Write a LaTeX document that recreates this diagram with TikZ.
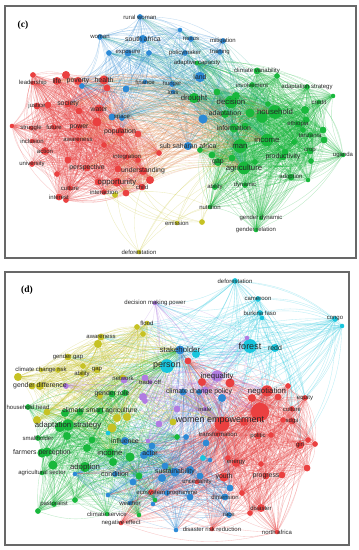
\documentclass[tikz,border=0pt]{standalone}
\usepackage{fontspec}
\setmainfont{Liberation Sans}
\newfontfamily\panelfont{Liberation Serif}
\usepackage{tikz}
\usetikzlibrary{backgrounds}
\pgfdeclarelayer{foreground}
\pgfsetlayers{background,main,foreground}
\definecolor{vosred}{RGB}{234,64,64}
\definecolor{vosgreen}{RGB}{24,184,60}
\definecolor{vosblue}{RGB}{44,138,214}
\definecolor{vosyellow}{RGB}{198,194,36}
\definecolor{voscyan}{RGB}{24,198,222}
\definecolor{vospurple}{RGB}{176,124,226}
\definecolor{vosorange}{RGB}{226,132,70}
\definecolor{vosteal}{RGB}{40,168,150}
\definecolor{framegray}{RGB}{104,104,104}
\definecolor{labelink}{RGB}{40,40,40}
\newcommand{\fs}{\fontsize{6.0}{6.5}\selectfont}
\newcommand{\fm}{\fontsize{6.9}{7.5}\selectfont}
\newcommand{\fl}{\fontsize{7.8}{8.5}\selectfont}
\newcommand{\fx}{\fontsize{9.0}{10}\selectfont}
\tikzset{
  kwdot/.style={circle,inner sep=0pt,draw=none},
  kwlab/.style={inner sep=0pt,text=labelink},
  kwedge/.style={line width=0.35pt,draw opacity=0.3,bend left=17},
  panelframe/.style={draw=framegray,line width=1.4pt},
  panellab/.style={font=\panelfont\bfseries\fontsize{9.5}{10}\selectfont,text=black}
}
% labelled keyword: name/x/y/size/font/text
\newcommand{\kwnodes}[2]{%
  \foreach \n/\x/\y/\s/\z/\lab in {#2}{%
    \node[kwdot,fill=#1,minimum size=1.15*\s pt] (\n) at (\x,\y) {};
    \begin{pgfonlayer}{foreground}
      \node[kwlab,font=\z] (\n-l) at (\x,\y) {\lab};
    \end{pgfonlayer}}}
% unlabelled keyword: name/x/y/size
\newcommand{\kwdots}[2]{%
  \foreach \n/\x/\y/\s in {#2}{%
    \node[kwdot,fill=#1,minimum size=1.15*\s pt] (\n) at (\x,\y) {};}}
\newcommand{\clique}[2]{%
  \foreach \a [count=\i] in #2 {\foreach \b [count=\j] in #2 {%
    \ifnum\j>\i\relax \draw[kwedge,draw=#1] (\a) to (\b);\fi}}}
\newcommand{\links}[3]{%
  \foreach \a in #2 {\foreach \b in #3 {\draw[kwedge,draw=#1] (\a) to (\b);}}}

% cluster lists, panel (c)
\def\cRed{c-life,c-poverty,c-health,c-leadership,c-justice,c-society,c-water,c-future,c-power,c-struggle,c-population,c-inclusion,c-awareness,c-action,c-integration,c-university,c-perspective,c-understanding,c-opportunity,c-child,c-culture,c-interaction,c-interest,c-r1,c-r2,c-r3,c-r4,c-r5,c-r6,c-r7,c-r8,c-r9,c-r10,c-r11,c-r12,c-r13,c-r14,c-r15,c-r16,c-r17,c-r18}
\def\cRedMain{c-life,c-poverty,c-health,c-society,c-water,c-power,c-population,c-awareness,c-integration,c-perspective,c-understanding,c-opportunity,c-child,c-interaction,c-r3,c-r6,c-r8,c-r9,c-r11,c-r13,c-r15,c-r17,c-r18}
\def\cRedHub{c-health,c-poverty,c-water,c-population,c-society}
\def\cBlue{c-ruralwoman,c-woman,c-southafrica,c-exposure,c-policymaker,c-nexus,c-mitigation,c-training,c-land,c-finance,c-hunger,c-loss,c-space,c-subsaharan,c-b1,c-b2,c-b3,c-b4,c-b5,c-b6,c-b7}
\def\cBlueTop{c-ruralwoman,c-woman,c-southafrica,c-exposure,c-b1,c-b2}
\def\cGreen{c-adaptcap,c-climvar,c-involvement,c-adaptstrat,c-credit,c-drought,c-decision,c-household,c-adaptation,c-information,c-ethiopia,c-tanzania,c-crop,c-uganda,c-income,c-man,c-productivity,c-gap,c-agriculture,c-adoption,c-ability,c-dynamic,c-nutrition,c-genderdyn,c-genderrel,c-g1,c-g2,c-g3,c-g4,c-g5,c-g6,c-g7,c-g8,c-g9,c-g10,c-g11,c-g12,c-g13,c-g14,c-g15,c-g16,c-g17,c-g18,c-g19,c-g20,c-g21}
\def\cGreenHub{c-drought,c-decision,c-household,c-man,c-income,c-agriculture,c-information,c-adaptation}
\def\cYellow{c-deforest,c-emission,c-y1,c-y2}
\def\cYellowTo{c-interaction,c-opportunity,c-man,c-agriculture,c-child,c-gap,c-nutrition}

% cluster lists, panel (d)
\def\dYellow{d-flood,d-awareness,d-gendergap,d-climrisk,d-ability,d-gap,d-genderdiff,d-network,d-y1,d-y2,d-y3,d-y4,d-y5,d-y6,d-y7,d-y8,d-y9,d-y10,d-y11,d-y12,d-y13,d-y14}
\def\dGreen{d-househead,d-climsmart,d-adaptstrat,d-smallholder,d-farmers,d-income,d-adoption,d-agrisector,d-pastoralist,d-climserv,d-genderrole,d-g1,d-g2,d-g3,d-g4,d-g5,d-g6,d-g7,d-g8,d-g9,d-g10,d-g11,d-g12,d-g13,d-g14,d-g15,d-g16,d-g17}
\def\dBlue{d-stakeholder,d-influence,d-actor,d-condition,d-weather,d-climpolicy,d-sustain,d-ecoprog,d-dimension,d-race,d-b1,d-b2,d-b3,d-b4,d-b5,d-b6,d-b7,d-b8,d-b9,d-b10,d-b11,d-b12,d-b13,d-b14,d-b15,d-b16,d-b17,d-b18}
\def\dCyan{d-person,d-forest,d-redd,d-deforest,d-cameroon,d-burkina,d-congo,d-c1,d-c2,d-c3,d-c4,d-c5}
\def\dCyanMain{d-forest,d-redd,d-deforest,d-cameroon,d-burkina,d-congo,d-c2}
\def\dFar{d-person,d-stakeholder,d-negotiation,d-womenemp,d-equity,d-inequality,d-awareness,d-flood,d-dmpower,d-climpolicy,d-girl,d-culture,d-r1,d-gendergap,d-y1}
\def\dPurple{d-dmpower,d-inequality,d-tradeoff,d-male,d-p1,d-p2,d-p3,d-p4,d-p5,d-p6,d-p7,d-p8,d-p9,d-p10}
\def\dRed{d-womenemp,d-negotiation,d-equity,d-culture,d-sdgs,d-politic,d-girl,d-energy,d-youth,d-progress,d-disaster,d-northafrica,d-negeffect,d-uncert,d-drr,d-transform,d-r1,d-r2,d-r3,d-r4,d-r5,d-r6,d-r7,d-r8,d-r9,d-r10,d-r11,d-r12,d-r13,d-r14,d-r15,d-r16,d-r17,d-r19,d-r22,d-r23}
\def\dRedHub{d-womenemp,d-r1,d-negotiation,d-r23}
\def\dMidHub{d-person,d-womenemp,d-stakeholder,d-adaptstrat,d-income}
\def\dBlueHub{d-sustain,d-actor,d-influence,d-stakeholder,d-person}

\begin{document}
\begin{tikzpicture}[x=1pt,y=-1pt]
  \useasboundingbox (0,0) rectangle (359,550);
  \begin{pgfonlayer}{background}
    \fill[white] (0,0) rectangle (359,550);
  \end{pgfonlayer}
  \draw[panelframe] (5,6) rectangle (356,258);
  \draw[panelframe] (5,272) rectangle (349,545);

  % ---- panel (c)
  \kwnodes{vosred}{c-life/57/81/7/\fm/life, c-poverty/78/81/7/\fm/poverty,
    c-health/104/80/8/\fm/health, c-leadership/33/83/4/\fs/leadership,
    c-justice/37/106/6/\fs/justice, c-society/68/104/6/\fm/society,
    c-water/99/109/8/\fm/water, c-future/54/127/5/\fs/future,
    c-power/79/127/6/\fm/power, c-struggle/31/128/4/\fs/struggle,
    c-population/120/132/8/\fm/population, c-inclusion/32/141/4/\fs/inclusion,
    c-awareness/78/140/5/\fs/awareness, c-action/45/151/7/\fs/action,
    c-integration/127/157/5/\fs/integration, c-university/32/164/5/\fs/university,
    c-perspective/87/168/6/\fm/perspective, c-understanding/143/171/7/\fm/understanding,
    c-opportunity/117/182/8/\fl/opportunity, c-child/142/187/6/\fs/child,
    c-culture/70/188/5/\fs/culture, c-interaction/104/192/5/\fs/interaction,
    c-interest/59/197/6/\fs/interest}
  \kwdots{vosred}{c-r1/33/75/5, c-r2/66/75/7, c-r3/107/88/6, c-r4/48/105/6,
    c-r5/79/111/6, c-r6/97/122/8, c-r7/12/126/4, c-r8/138/134/6, c-r9/104/145/5,
    c-r10/68/160/6, c-r11/118/169/6, c-r12/57/174/5, c-r13/150/180/7,
    c-r14/98/182/6, c-r15/126/193/6, c-r16/66/200/5, c-r17/159/153/5, c-r18/138/160/5}
  \kwnodes{vosblue}{c-ruralwoman/140/17/5/\fs/rural woman, c-woman/100/37/5/\fs/woman,
    c-southafrica/143/39/7/\fm/south africa, c-exposure/128/53/6/\fs/exposure,
    c-policymaker/185/53/5/\fs/policymaker, c-nexus/191/39/5/\fs/nexus,
    c-mitigation/223/41/5/\fs/mitigation, c-training/220/52/5/\fs/training,
    c-land/200/77/9/\fm/land, c-finance/145/82/4/\fs/finance,
    c-hunger/172/84/5/\fs/hunger, c-loss/173/92/4/\fs/loss,
    c-space/122/118/5/\fs/space, c-subsaharan/188/146/7/\fm/sub saharan africa}
  \kwdots{vosblue}{c-b1/109/53/5, c-b2/149/53/5, c-b3/126/89/6, c-b4/112/117/6,
    c-b5/203/119/8, c-b6/82/86/5, c-b7/180/30/4}
  \kwnodes{vosgreen}{c-adaptcap/197/63/4/\fs/adaptive capacity,
    c-climvar/257/71/6/\fs/climate variability, c-involvement/252/85/5/\fs/involvement,
    c-adaptstrat/307/87/5/\fs/adaptation strategy, c-credit/319/102/4/\fs/credit,
    c-drought/194/98/9/\fl/drought, c-decision/231/102/11/\fl/decision,
    c-household/275/112/12/\fl/household, c-adaptation/225/114/7/\fm/adaptation,
    c-information/234/128/8/\fm/information, c-ethiopia/298/124/6/\fs/ethiopia,
    c-tanzania/310/135/5/\fs/tanzania, c-crop/310/151/6/\fs/crop,
    c-uganda/343/155/4/\fs/uganda, c-income/267/140/11/\fl/income,
    c-man/240/146/12/\fl/man, c-productivity/283/157/6/\fm/productivity,
    c-gap/218/162/7/\fm/gap, c-agriculture/244/168/11/\fl/agriculture,
    c-adoption/291/177/6/\fs/adoption, c-ability/215/187/5/\fs/ability,
    c-dynamic/245/185/5/\fs/dynamic, c-nutrition/210/207/4/\fs/nutrition,
    c-genderdyn/261/218/4/\fs/gender dynamic, c-genderrel/256/230/4/\fs/gender relation}
  \kwdots{vosgreen}{c-g1/217/92/6, c-g2/236/96/7, c-g3/262/117/10, c-g4/268/104/5,
    c-g5/305/110/7, c-g6/306/120/6, c-g7/323/130/6, c-g8/324/140/6, c-g9/303/130/5,
    c-g10/294/142/5, c-g11/311/161/5, c-g12/308/180/4, c-g13/255/162/5,
    c-g14/232/158/6, c-g15/212/155/6, c-g16/200/150/5, c-g17/245/126/6,
    c-g18/285/152/6, c-g19/333/96/4, c-g20/277/76/5, c-g21/250/113/8}
  \kwnodes{vosyellow}{c-emission/177/223/4/\fs/emission,
    c-deforest/139/252/4/\fs/deforestation}
  \kwdots{vosyellow}{c-y1/115/195/5, c-y2/202/222/5}
  \begin{pgfonlayer}{foreground}
    \node[panellab] (c-tag) at (23,25) {(c)};
  \end{pgfonlayer}

  % ---- panel (d)
  \kwnodes{vosyellow}{d-flood/147/323/4/\fs/flood, d-awareness/101/337/6/\fs/awareness,
    d-gendergap/68/357/6/\fs/gender gap, d-climrisk/41/370/4/\fs/climate change risk,
    d-ability/82/374/5/\fs/ability, d-gap/97/370/6/\fs/gap,
    d-genderdiff/40/386/7/\fm/gender difference, d-network/123/378/6/\fs/network}
  \kwdots{vosyellow}{d-y1/137/327/5, d-y2/143/334/5, d-y3/98/344/7, d-y4/18/377/7,
    d-y5/83/366/5, d-y6/32/386/6, d-y7/37/420/7, d-y8/117/418/7, d-y9/127/417/7,
    d-y10/112/428/8, d-y11/47/412/6, d-y12/173/422/6, d-y13/58/370/5, d-y14/100/396/5}
  \kwnodes{vosgreen}{d-househead/28/407/5/\fs/household head,
    d-climsmart/100/411/6/\fm/climate smart agriculture,
    d-adaptstrat/68/425/10/\fl/adaptation strategy, d-smallholder/38/438/5/\fs/smallholder,
    d-farmers/42/453/8/\fm/farmers perception, d-income/110/453/8/\fl/income,
    d-adoption/85/467/9/\fl/adoption, d-agrisector/42/473/4/\fs/agricultural sector,
    d-pastoralist/54/504/5/\fs/pastoralist, d-climserv/107/514/4/\fs/climate service,
    d-genderrole/112/394/6/\fm/gender role}
  \kwdots{vosgreen}{d-g1/65/413/7, d-g2/67/436/7, d-g3/47/452/8, d-g4/53/465/8,
    d-g5/87/448/7, d-g6/92/440/6, d-g7/113/462/7, d-g8/130/457/8, d-g9/38/511/5,
    d-g10/75/500/5, d-g11/139/515/4, d-g12/139/476/6, d-g13/177/437/5,
    d-g14/125/393/6, d-g15/80/412/6, d-g16/60/427/9, d-g17/155/500/4}
  \kwnodes{vosblue}{d-stakeholder/180/350/8/\fl/stakeholder,
    d-influence/125/441/7/\fm/influence, d-actor/150/453/7/\fm/actor,
    d-condition/115/474/5/\fm/condition, d-weather/130/503/4/\fs/weather,
    d-climpolicy/199/392/5/\fm/climate change policy,
    d-sustain/175/472/8/\fm/sustainability, d-ecoprog/167/493/5/\fs/ecosystem programme,
    d-dimension/225/497/6/\fs/dimension, d-race/229/515/5/\fs/race}
  \kwdots{vosblue}{d-b1/183/392/6, d-b2/222/398/7, d-b3/144/455/7, d-b4/152/446/6,
    d-b5/133/482/6, d-b6/108/495/4, d-b7/153/504/4, d-b8/176/530/4, d-b9/75/474/4,
    d-b10/190/470/7, d-b11/210/460/4, d-b12/190/497/6, d-b13/230/488/6,
    d-b14/206/443/6, d-b15/186/437/5, d-b16/165/466/6, d-b17/200/476/6, d-b18/162/478/7}
  \kwnodes{voscyan}{d-person/167/366/12/\fx/person, d-forest/250/346/12/\fx/forest,
    d-redd/275/348/7/\fm/redd, d-deforest/235/281/5/\fs/deforestation,
    d-cameroon/258/299/5/\fs/cameroon, d-burkina/260/313/5/\fs/burkina faso,
    d-congo/335/319/5/\fs/congo}
  \kwdots{voscyan}{d-c1/196/354/7, d-c2/342/326/4, d-c3/203/458/5, d-c4/108/433/4,
    d-c5/262/318/4}
  \kwnodes{vospurple}{d-dmpower/155/303/4/\fs/decision making power,
    d-inequality/217/376/10/\fl/inequality, d-tradeoff/150/382/4/\fs/trade off,
    d-male/205/409/4/\fs/male}
  \kwdots{vospurple}{d-p1/247/338/4, d-p2/145/378/6, d-p3/143/397/7, d-p4/66/386/5,
    d-p5/177/409/6, d-p6/159/424/6, d-p7/145/401/5, d-p8/148/441/4, d-p9/205/390/6,
    d-p10/124/380/6}
  \kwdots{vosred}{d-r1/260/412/16, d-r23/222/424/13}
  \kwnodes{vosred}{d-womenemp/220/421/4/\fx/women empowerment,
    d-negotiation/267/391/10/\fl/negotiation, d-equity/305/398/5/\fs/equity,
    d-culture/292/409/5/\fs/culture, d-sdgs/292/421/6/\fs/sdgs,
    d-politic/258/436/6/\fs/politic, d-girl/300/445/7/\fs/girl,
    d-energy/236/463/7/\fs/energy, d-youth/224/477/8/\fm/youth,
    d-progress/266/476/6/\fm/progress, d-disaster/261/508/7/\fs/disaster,
    d-northafrica/277/532/4/\fs/north africa, d-negeffect/121/523/4/\fs/negative effect,
    d-uncert/197/482/4/\fs/uncertainty, d-drr/212/529/4/\fs/disaster risk reduction,
    d-transform/218/434/5/\fs/transformation}
  \kwdots{vosred}{d-r2/202/382/7, d-r3/230/383/8, d-r4/188/361/6,
    d-r5/288/386/5, d-r6/252/398/7, d-r7/278/397/6, d-r8/315/444/5, d-r9/308/440/5,
    d-r10/307/468/6, d-r11/283/420/5, d-r12/271/435/5, d-r13/228/458/5,
    d-r14/261/464/5, d-r15/282/475/6, d-r16/242/493/5, d-r17/250/513/5,
    d-r19/151/492/5, d-r22/244/422/7}
  \begin{pgfonlayer}{foreground}
    \node[panellab] (d-tag) at (27,290) {(d)};
  \end{pgfonlayer}

  % ---- links
  \begin{pgfonlayer}{background}
    \clique{vosred}{\cRed}
    \clique{vosgreen}{\cGreen}
    \clique{vosblue}{\cBlue}
    \links{vosorange}{\cRedMain}{\cGreenHub}
    \links{vosteal}{\cBlue}{\cGreenHub}
    \links{vosblue}{\cBlueTop}{\cRedHub}
    \links{vosyellow}{\cYellow}{\cYellowTo}
    \clique{voscyan}{\dCyan}
    \links{voscyan}{\dCyanMain}{\dFar}
    \clique{vosred}{\dRed}
    \clique{vosyellow}{\dYellow}
    \clique{vosgreen}{\dGreen}
    \clique{vosblue}{\dBlue}
    \clique{vospurple}{\dPurple}
    \links{vosred}{\dRedHub}{\dBlue}
    \links{vosyellow}{\dYellow}{\dMidHub}
    \links{vosgreen}{\dGreen}{\dBlueHub}
    \links{vospurple}{\dPurple}{\dRedHub}
  \end{pgfonlayer}
\end{tikzpicture}
\end{document}
